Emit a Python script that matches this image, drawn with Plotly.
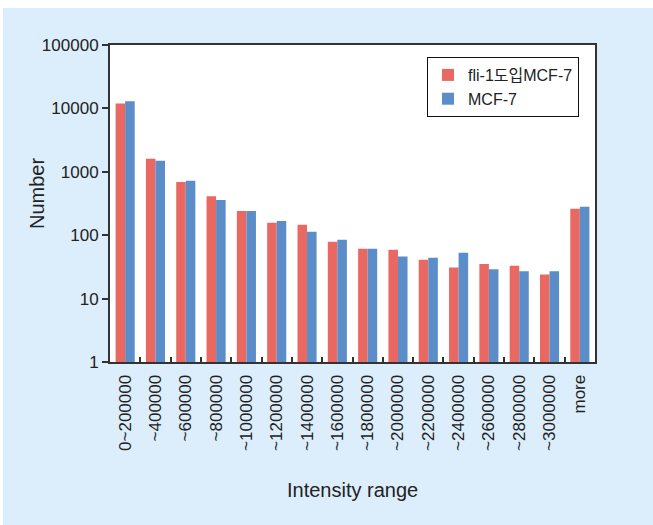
import plotly.graph_objects as go

# Intensity bins and counts for the two cell lines
categories = [
    "0~200000", "~400000", "~600000", "~800000", "~1000000", "~1200000",
    "~1400000", "~1600000", "~1800000", "~2000000", "~2200000", "~2400000",
    "~2600000", "~2800000", "~3000000", "more",
]
fli1_counts = [12000, 1600, 690, 410, 240, 157, 146, 79, 61, 59, 41, 31, 35, 33, 24, 262]
mcf7_counts = [13000, 1500, 720, 360, 240, 168, 113, 85, 61, 46, 44, 53, 29, 27, 27, 282]

series_names = ["fli-1도입MCF-7", "MCF-7"]
series_colors = ["#EA6862", "#5B8DC9"]

y_tickvals = [1, 10, 100, 1000, 10000, 100000]
y_ticktext = ["1", "10", "100", "1000", "10000", "100000"]

FONT = "Liberation Sans, Arial, Noto Sans CJK KR, sans-serif"
TEXT = "#222222"
PANEL = "#DCEEFB"
AXIS = "#333333"

fig = go.Figure()
for name, vals, col in zip(series_names, [fli1_counts, mcf7_counts], series_colors):
    fig.add_trace(go.Bar(x=categories, y=vals, name=name, marker=dict(color=col, line=dict(width=0))))

W, H = 653, 525
L, R, T, B = 110, 58, 45, 163
pw, ph = W - L - R, H - T - B


def px_to_paper_x(px):
    return (px - L) / pw


def px_to_paper_y(py):
    return (H - B - py) / ph


fig.update_layout(
    width=W, height=H,
    margin=dict(l=L, r=R, t=T, b=B),
    paper_bgcolor="white",
    plot_bgcolor="white",
    barmode="group",
    bargap=0.37,
    bargroupgap=0,
    font=dict(family=FONT, size=17, color=TEXT),
    showlegend=True,
    legend=dict(
        x=px_to_paper_x(427), y=px_to_paper_y(57), xanchor="left", yanchor="top",
        bgcolor="white", bordercolor="#111111", borderwidth=1,
        font=dict(family=FONT, size=16, color=TEXT),
        itemwidth=30, tracegroupgap=0,
    ),
    shapes=[
        # light-blue panel behind the whole chart
        dict(type="rect", xref="paper", yref="paper", layer="below",
             x0=px_to_paper_x(3), x1=px_to_paper_x(W), y0=px_to_paper_y(8), y1=px_to_paper_y(H),
             fillcolor=PANEL, line=dict(width=0)),
        # white plotting area
        dict(type="rect", xref="paper", yref="paper", layer="below",
             x0=0, x1=1, y0=0, y1=1, fillcolor="white", line=dict(width=0)),
    ],
    annotations=[
        dict(text="Number", xref="paper", yref="paper", x=px_to_paper_x(37), y=px_to_paper_y(194),
             xanchor="center", yanchor="middle", textangle=-90, showarrow=False,
             font=dict(family=FONT, size=20, color=TEXT)),
        dict(text="Intensity range", xref="paper", yref="paper", x=px_to_paper_x(352), y=px_to_paper_y(490),
             xanchor="center", yanchor="middle", showarrow=False,
             font=dict(family=FONT, size=20, color=TEXT)),
    ],
)

fig.update_xaxes(
    type="category",
    tickangle=-90,
    tickson="boundaries",
    ticks="inside", ticklen=5, tickwidth=2, tickcolor=AXIS,
    showline=True, linecolor=AXIS, linewidth=2, mirror=True,
    showgrid=False, zeroline=False,
    ticklabelstandoff=4,
    tickfont=dict(family=FONT, size=17, color=TEXT),
)
fig.update_yaxes(
    type="log", range=[0, 5],
    tickvals=y_tickvals, ticktext=y_ticktext,
    ticks="outside", ticklen=6, tickwidth=1.5, tickcolor=AXIS,
    showline=True, linecolor=AXIS, linewidth=2, mirror=True,
    showgrid=False, zeroline=False,
    tickfont=dict(family=FONT, size=17, color=TEXT),
)

fig.write_html("out.html")
